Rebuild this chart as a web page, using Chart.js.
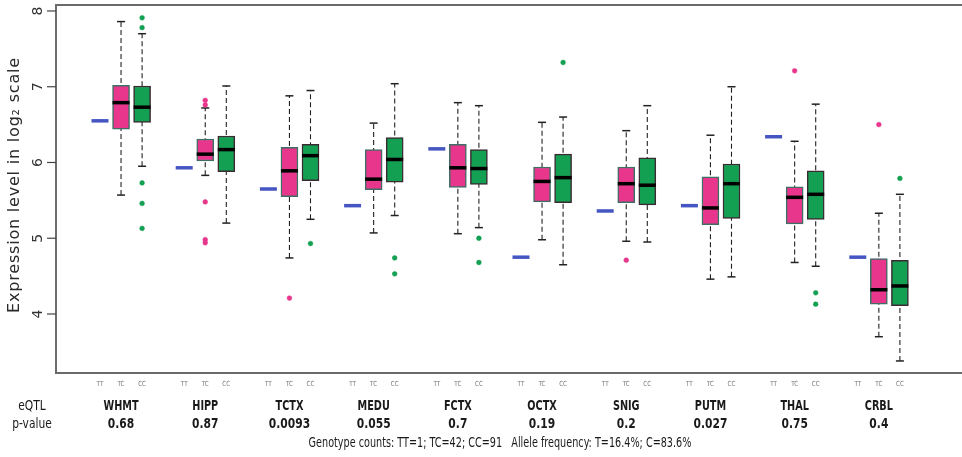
<!DOCTYPE html>
<html><head><meta charset="utf-8">
<script src="https://cdn.jsdelivr.net/npm/chart.js@4"></script>
<style>html,body{margin:0;padding:0;background:#fff;overflow:hidden}#wrap{width:962px;height:457px;position:relative}</style>
</head><body><div id="wrap"><canvas id="c" width="962" height="457"></canvas></div>
<script>
const regions = ['WHMT','HIPP','TCTX','MEDU','FCTX','OCTX','SNIG','PUTM','THAL','CRBL'];
const pValues = ['0.68','0.87','0.0093','0.055','0.7','0.19','0.2','0.027','0.75','0.4'];
const genotypes = ['TT','TC','CC'];
const yTicks = [4,5,6,7,8];
const ttValues = [6.55,5.93,5.65,5.43,6.18,4.75,5.36,5.43,6.34,4.75];
const tcMin = [5.57,5.83,4.74,5.07,5.06,4.98,4.96,4.46,4.68,3.70];
const tcQ1  = [6.44,6.02,5.55,5.64,5.67,5.48,5.47,5.18,5.19,4.13];
const tcMed = [6.79,6.11,5.89,5.78,5.93,5.75,5.72,5.40,5.54,4.32];
const tcQ3  = [7.02,6.31,6.20,6.17,6.24,5.94,5.94,5.81,5.68,4.73];
const tcMax = [7.86,6.72,6.88,6.52,6.79,6.53,6.42,6.36,6.28,5.33];
const tcOut = [[],[6.82,6.76,5.48,4.98,4.94],[4.21],[],[],[],[4.71],[],[7.21],[6.50]];
const ccMin = [5.95,5.20,5.25,5.30,5.14,4.65,4.95,4.49,4.63,3.38];
const ccQ1  = [6.53,5.88,5.76,5.74,5.71,5.47,5.44,5.26,5.25,4.11];
const ccMed = [6.73,6.17,6.09,6.04,5.92,5.80,5.70,5.72,5.58,4.37];
const ccQ3  = [7.01,6.35,6.24,6.33,6.17,6.11,6.06,5.98,5.89,4.71];
const ccMax = [7.70,7.01,6.95,7.04,6.75,6.60,6.75,7.00,6.77,5.58];
const ccOut = [[7.91,7.78,5.73,5.46,5.13],[],[4.93],[4.74,4.53],[5.00,4.68],[7.32],[],[],[4.28,4.13],[5.79]];
const captionText = 'Genotype counts: TT=1; TC=42; CC=91   Allele frequency: T=16.4%; C=83.6%';

const PINK = '#E8368C', GREEN = '#14A052', BLUE = '#4556C2';
const pos = (g, k) => g * 4 + k;

function boxes(q1, q3, k) { return q1.map((v, g) => ({x: pos(g, k), y: [v, q3[g]]})); }
function pts(arr, k) { return arr.map((v, g) => ({x: pos(g, k), y: v})); }
function caps(mn, mx, k) { const r = []; mn.forEach((v, g) => { r.push({x: pos(g, k), y: v}); r.push({x: pos(g, k), y: mx[g]}); }); return r; }
function whisk(mn, mx, k) { const r = []; mn.forEach((v, g) => { r.push({x: pos(g, k), y: v}); r.push({x: pos(g, k), y: mx[g]}); r.push({x: pos(g, k), y: null}); }); return r; }
function outs(o, k) { const r = []; o.forEach((list, g) => list.forEach(v => r.push({x: pos(g, k), y: v}))); return r; }

const FONT_C = '"DejaVu Sans Condensed", "DejaVu Sans", sans-serif';
function txt(ctx, s, x, y, font, sx) {
  ctx.save(); ctx.font = font; ctx.translate(x, y); ctx.scale(sx, 1); ctx.fillText(s, 0, 0); ctx.restore();
}

const labelPlugin = {
  id: 'labels',
  afterDraw(chart) {
    const ctx = chart.ctx, a = chart.chartArea, xs = chart.scales.x, ys = chart.scales.y;
    ctx.save();
    ctx.strokeStyle = '#6b6b6b'; ctx.lineWidth = 2;
    ctx.beginPath();
    ctx.moveTo(a.right + 4, a.top); ctx.lineTo(a.left, a.top); ctx.lineTo(a.left, a.bottom); ctx.lineTo(a.right + 4, a.bottom);
    ctx.stroke();
    ctx.lineWidth = 1.2; ctx.strokeStyle = '#444';
    ctx.fillStyle = '#333'; ctx.font = '14px "DejaVu Sans", sans-serif';
    ctx.textAlign = 'center'; ctx.textBaseline = 'middle';
    yTicks.forEach(t => {
      const py = ys.getPixelForValue(t);
      ctx.beginPath(); ctx.moveTo(a.left - 9, py); ctx.lineTo(a.left, py); ctx.stroke();
      ctx.save(); ctx.translate(38, py); ctx.rotate(-Math.PI / 2); ctx.fillText(String(t), 0, 0); ctx.restore();
    });
    ctx.save(); ctx.translate(15, (a.top + a.bottom) / 2 - 4); ctx.rotate(-Math.PI / 2);
    ctx.font = '16px "DejaVu Sans", sans-serif'; ctx.fillStyle = '#2a2a2a';
    try { ctx.letterSpacing = '0.8px'; } catch (e) {}
    ctx.fillText('Expression level in log\u2082 scale', 0, 0); ctx.restore();
    ctx.fillStyle = '#777';
    regions.forEach((r, g) => {
      genotypes.forEach((gt, k) => txt(ctx, gt, xs.getPixelForValue(pos(g, k)), 384, '7px ' + FONT_C, 0.9));
    });
    ctx.fillStyle = '#1a1a1a';
    regions.forEach((r, g) => txt(ctx, r, xs.getPixelForValue(pos(g, 1)), 406, 'bold 14px ' + FONT_C, 0.77));
    pValues.forEach((p, g) => txt(ctx, p, xs.getPixelForValue(pos(g, 1)), 424, 'bold 14px ' + FONT_C, 0.85));
    txt(ctx, 'eQTL', 32, 406, '14px ' + FONT_C, 0.85);
    txt(ctx, 'p-value', 32, 424, '14px ' + FONT_C, 0.85);
    txt(ctx, captionText, 500, 443, '14px ' + FONT_C, 0.767);
    ctx.restore();
  }
};

const lineOpts = (data) => ({type: 'scatter', data, showLine: true, borderColor: '#222', borderWidth: 1.1, borderDash: [5, 3], pointRadius: 0, spanGaps: false, order: 3});
const markOpts = (data, color, r, w, order) => ({type: 'scatter', data, pointStyle: 'line', pointRadius: r, borderColor: color, borderWidth: w, order});

new Chart(document.getElementById('c'), {
  type: 'scatter',
  data: {
    datasets: [
      lineOpts(whisk(tcMin, tcMax, 1)),
      lineOpts(whisk(ccMin, ccMax, 2)),
      {type: 'bar', data: boxes(tcQ1, tcQ3, 1), backgroundColor: PINK, borderColor: '#3f6e64', borderWidth: 1.5, borderSkipped: false, barThickness: 17, grouped: false, order: 2},
      {type: 'bar', data: boxes(ccQ1, ccQ3, 2), backgroundColor: GREEN, borderColor: '#3a2b33', borderWidth: 1.5, borderSkipped: false, barThickness: 17, grouped: false, order: 2},
      markOpts(caps(tcMin, tcMax, 1), '#222', 4, 1.5, 1),
      markOpts(caps(ccMin, ccMax, 2), '#222', 4, 1.5, 1),
      markOpts(pts(tcMed, 1), '#000', 8.5, 3.5, 0),
      markOpts(pts(ccMed, 2), '#000', 8.5, 3.5, 0),
      markOpts(pts(ttValues, 0), BLUE, 8.5, 3.5, 0),
      {type: 'scatter', data: outs(tcOut, 1), pointStyle: 'circle', pointRadius: 2.4, backgroundColor: PINK, borderColor: PINK, borderWidth: 0.5, order: 0},
      {type: 'scatter', data: outs(ccOut, 2), pointStyle: 'circle', pointRadius: 2.4, backgroundColor: GREEN, borderColor: GREEN, borderWidth: 0.5, order: 0}
    ]
  },
  options: {
    responsive: false, animation: false, devicePixelRatio: 1,
    layout: {autoPadding: false, padding: {left: 56, top: 5, right: 0, bottom: 84}},
    plugins: {legend: {display: false}, tooltip: {enabled: false}},
    scales: {
      x: {type: 'linear', display: false, min: -2.09, max: 40.95, offset: false},
      y: {type: 'linear', display: false, min: 3.221, max: 8.079}
    }
  },
  plugins: [labelPlugin]
});
</script></body></html>
